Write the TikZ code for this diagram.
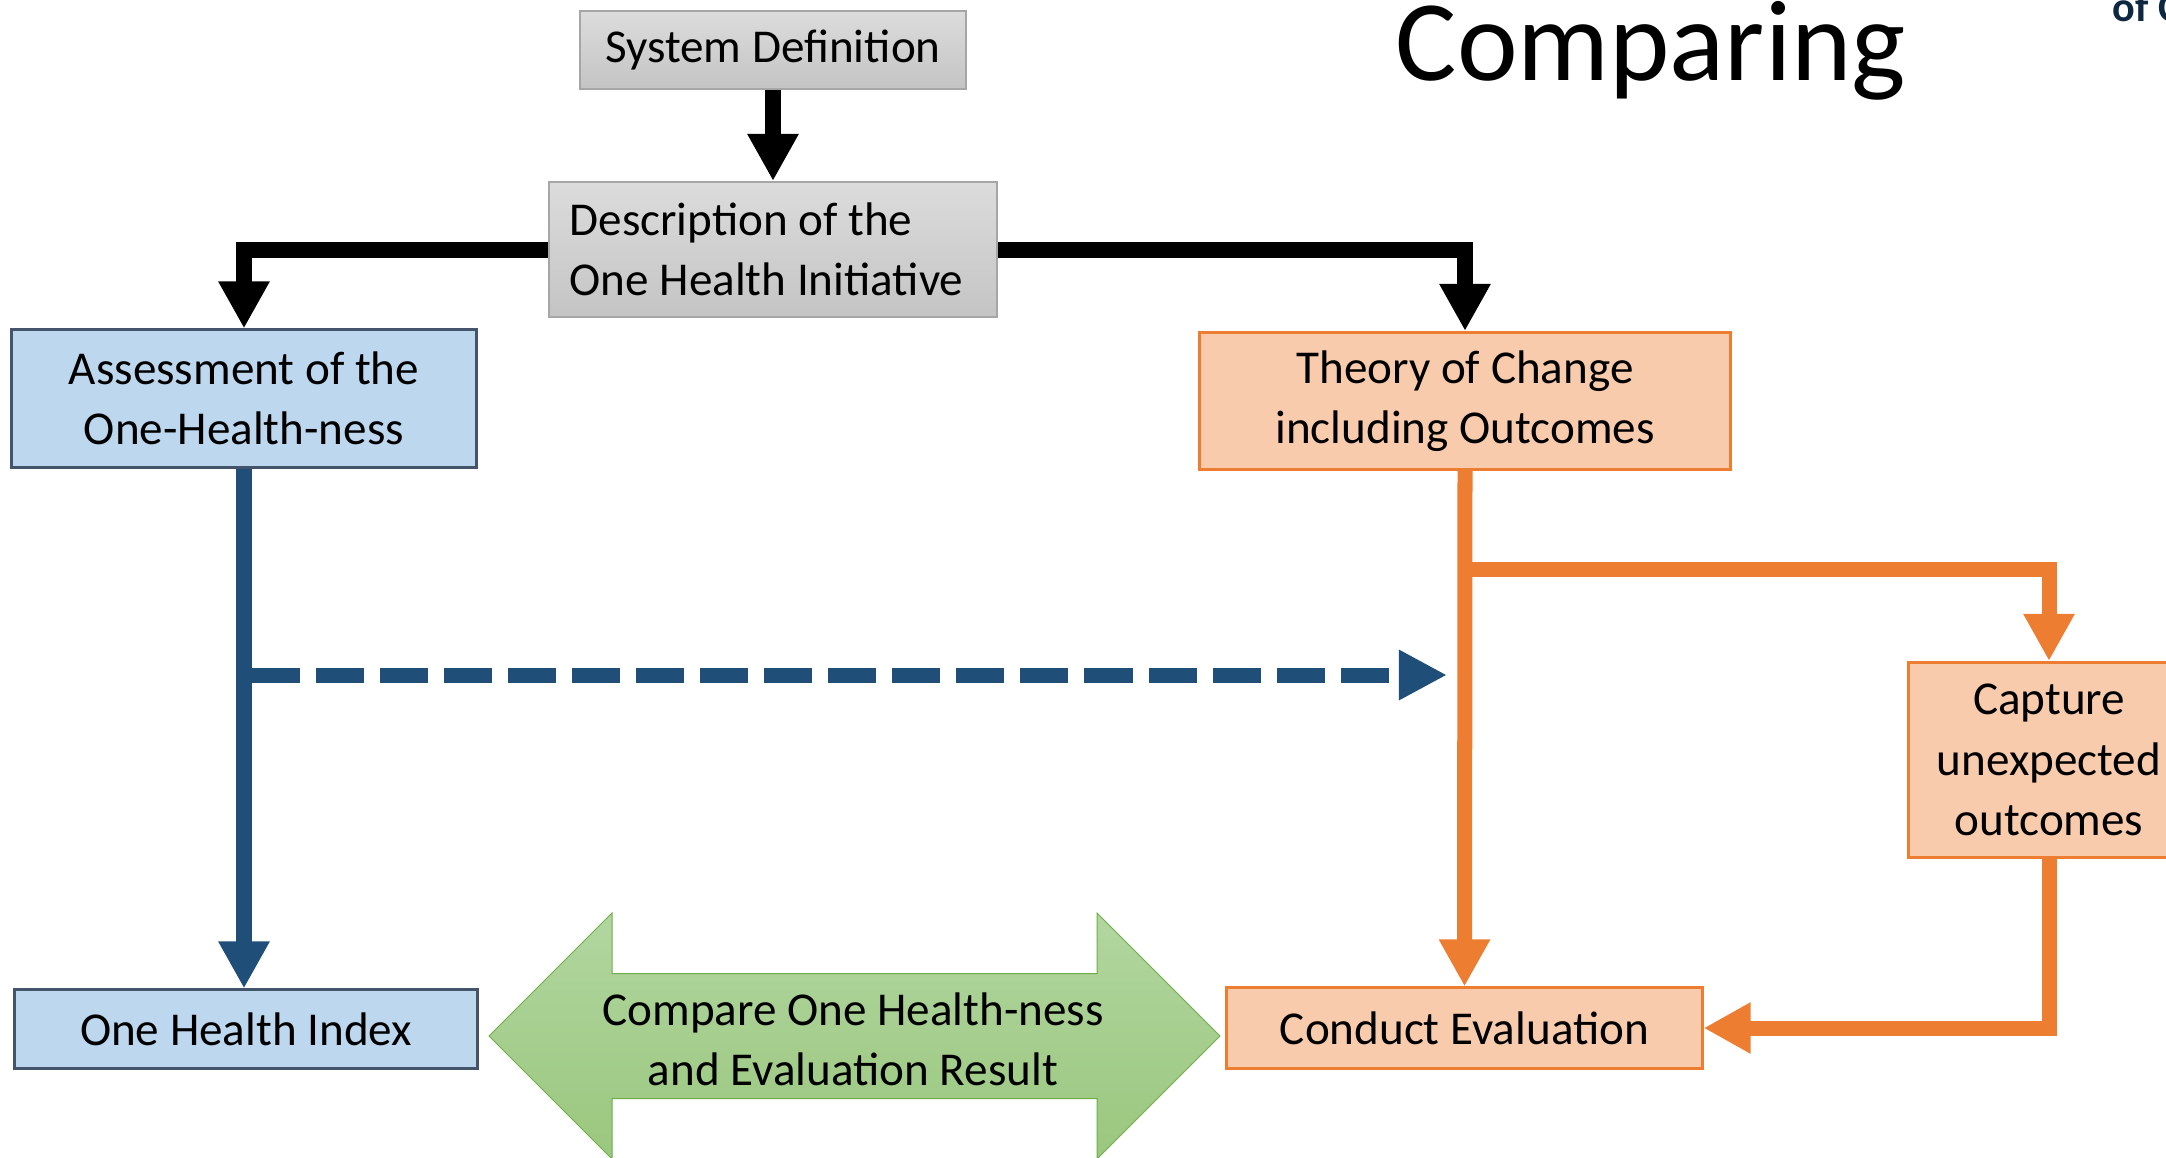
\documentclass[tikz,border=0pt]{standalone}
\usepackage{fontspec}
\setmainfont{Carlito}
\usetikzlibrary{arrows.meta}
\definecolor{boxgraytop}{HTML}{DCDCDC}
\definecolor{boxgraybot}{HTML}{C4C4C4}
\definecolor{boxgrayline}{HTML}{A6A6A6}
\definecolor{bluefill}{HTML}{BDD7EE}
\definecolor{blueline}{HTML}{44546A}
\definecolor{bluearrow}{HTML}{1F4E79}
\definecolor{orangefill}{HTML}{F8CBAD}
\definecolor{orangeline}{HTML}{ED7D31}
\definecolor{greentop}{HTML}{B2D6A0}
\definecolor{greenbot}{HTML}{9AC77E}
\definecolor{greenline}{HTML}{70AD47}
\definecolor{navytext}{HTML}{0E2841}
\tikzset{
  boxtext/.style={font=\fontsize{13.4pt}{17.1pt}\selectfont, text=black},
  graybox/.style={boxtext, draw=boxgrayline, line width=0.02cm,
    top color=boxgraytop, bottom color=boxgraybot, inner sep=0pt},
  bluebox/.style={boxtext, draw=blueline, line width=0.03cm, fill=bluefill,
    align=center, inner sep=0pt},
  orangebox/.style={boxtext, draw=orangeline, line width=0.03cm, fill=orangefill,
    align=center, inner sep=0pt},
  blackconn/.style={draw=black, line width=0.16cm,
    -{Triangle[width=0.48cm, length=0.47cm]}},
  blueconn/.style={draw=bluearrow, line width=0.15cm,
    -{Triangle[width=0.48cm, length=0.47cm]}},
  orangeconn/.style={draw=orangeline, line width=0.15cm,
    -{Triangle[width=0.48cm, length=0.47cm]}},
  dashconn/.style={draw=bluearrow, line width=0.15cm,
    dash pattern=on 0.48cm off 0.16cm,
    -{Triangle[width=0.47cm, length=0.48cm]}},
}
\begin{document}
\begin{tikzpicture}[x=0.01cm, y=-0.01cm]
  \useasboundingbox (0,0) rectangle (2166,1157);

  % heading
  \node[anchor=base west, inner sep=0pt, font=\fontsize{32.7pt}{36pt}\selectfont]
    (title) at (1395,80) {Comparing};
  \node[anchor=base west, inner sep=0pt, text=navytext,
    font=\fontsize{12pt}{14pt}\selectfont\bfseries]
    (subtitle) at (2112,21) {of C};

  % boxes
  \node[graybox, minimum width=3.86cm, minimum height=0.78cm]
    (sys) at (773,50) {System Definition};
  \node[graybox, minimum width=4.48cm, minimum height=1.35cm]
    (desc) at (773,249.5) {};
  \node[boxtext, anchor=west, align=left, inner sep=0pt]
    (desctext) at ([xshift=0.21cm]desc.west) {Description of the\\One Health Initiative};
  \node[bluebox, minimum width=4.64cm, minimum height=1.37cm]
    (assess) at (244,398.5) {Assessment of the\\One-Health-ness};
  \node[bluebox, minimum width=4.63cm, minimum height=0.78cm]
    (ohi) at (246,1029) {One Health Index};
  \node[orangebox, minimum width=5.30cm, minimum height=1.37cm]
    (theory) at (1465,401) {Theory of Change\\including Outcomes};
  \node[orangebox, minimum width=2.80cm, minimum height=1.95cm]
    (capture) at (2049,760) {Capture\\unexpected\\outcomes};
  \node[orangebox, minimum width=4.75cm, minimum height=0.80cm]
    (conduct) at (1464.5,1028) {Conduct Evaluation};

  % two-headed comparison arrow
  \shade[top color=greentop, bottom color=greenbot, draw=greenline, line width=0.01cm]
    (489,1036) -- (612,913) -- (612,973.5) -- (1097,973.5) -- (1097,913)
    -- (1220,1036) -- (1097,1159) -- (1097,1098.5) -- (612,1098.5)
    -- (612,1159) -- cycle;
  \node[boxtext, align=center, inner sep=0pt] (cmp) at (853,1039)
    {Compare One Health-ness\\and Evaluation Result};

  % black connectors
  \draw[blackconn] (sys.south) -- (desc.north);
  \draw[blackconn] (desc.west) -| (assess.north);
  \draw[blackconn] (desc.east) -| (theory.north);

  % blue connectors
  \draw[blueconn] (assess.south) -- (assess.south |- ohi.north);
  \coordinate (dstart) at (252,675);
  \coordinate (dend) at (1447,675);
  \draw[dashconn] (dstart) -- (dend);

  % orange connectors
  \draw[orangeconn] (theory.south) -- (conduct.north);
  \coordinate (branch) at (1464,569);
  \draw[orangeconn] (branch) -| (capture.north);
  \draw[orangeconn] (capture.south) |- (conduct.east);
\end{tikzpicture}
\end{document}
